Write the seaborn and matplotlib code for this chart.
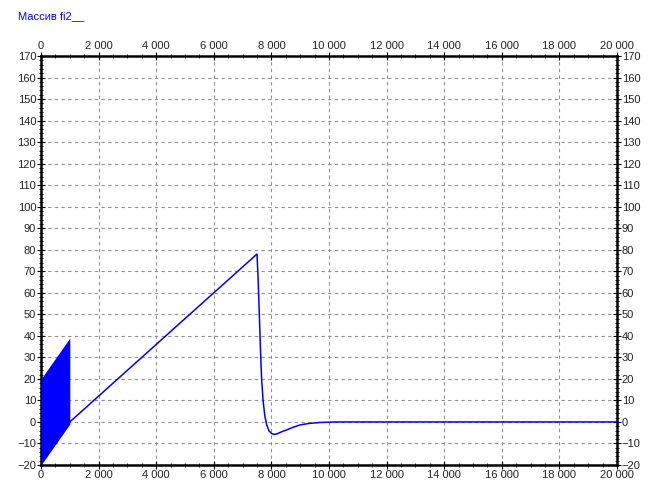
import matplotlib
matplotlib.use("Agg")
import matplotlib.pyplot as plt
import matplotlib.ticker as mticker
import seaborn as sns
import pandas as pd

# Fast oscillation during start-up: envelope of the filled band
band_x = [0, 1000]
band_upper = [20, 39]
band_lower = [-20, -1]

# Main response curve
curve_x = [1000, 2000, 4000, 6000, 7500, 7540, 7580, 7620, 7660, 7710,
           7770, 7840, 7920, 8010, 8100, 8200, 8350, 8530, 8750, 8990,
           9300, 9690, 10100, 10400, 12000, 16000, 20000]
curve_y = [0, 12, 36, 60, 78, 66, 50, 34, 20, 10,
           3, -1.5, -4.2, -5.4, -5.8, -5.5, -4.6, -3.7, -2.5, -1.4,
           -0.7, -0.25, -0.05, 0, 0, 0, 0]

title_text = "Массив fi2__"
x_ticks = list(range(0, 20001, 2000))
y_ticks = list(range(-20, 171, 10))

sns.set_theme(style="white")
plt.rcParams["font.family"] = ["Liberation Sans", "DejaVu Sans"]

fig = plt.figure(figsize=(6.54, 4.87), dpi=100)
ax = fig.add_axes([41 / 654, 1 - 465 / 487, 576 / 654, 409 / 487])

blue = "#0000ff"
ax.fill_between(band_x, band_lower, band_upper, color=blue, linewidth=0, zorder=3)
df = pd.DataFrame({"x": curve_x, "y": curve_y})
sns.lineplot(data=df, x="x", y="y", ax=ax, color=blue, linewidth=1.1,
             estimator=None, sort=False, zorder=4)

ax.set_xlim(0, 20000)
ax.set_ylim(-20, 170)
ax.set_xlabel("")
ax.set_ylabel("")

fmt = mticker.FuncFormatter(lambda v, p: f"{int(v):,}".replace(",", " "))
ax.set_xticks(x_ticks)
ax.set_yticks(y_ticks)
ax.xaxis.set_major_formatter(fmt)
ax.xaxis.set_minor_locator(mticker.MultipleLocator(500))
ax.yaxis.set_minor_locator(mticker.MultipleLocator(2))

ax.tick_params(axis="both", which="both", direction="inout", colors="black",
               labelsize=8, top=True, bottom=True, left=True, right=True,
               labeltop=True, labelbottom=True, labelleft=True, labelright=True)
ax.tick_params(axis="both", which="major", length=6, width=0.8, pad=0.5)
ax.tick_params(axis="both", which="minor", length=3, width=0.6)
for lbl in ax.get_xticklabels() + ax.get_yticklabels():
    lbl.set_color("#222222")

ax.grid(True, which="major", linestyle=(0, (3, 3)), color="#909090", linewidth=0.8)
for side in ax.spines.values():
    side.set_visible(True)
    side.set_color("black")
    side.set_linewidth(1.8)

fig.text(18 / 654, 1 - 16 / 487, title_text, color=blue, fontsize=8,
         ha="left", va="center")

fig.savefig("out.png", dpi=100, facecolor="white")
